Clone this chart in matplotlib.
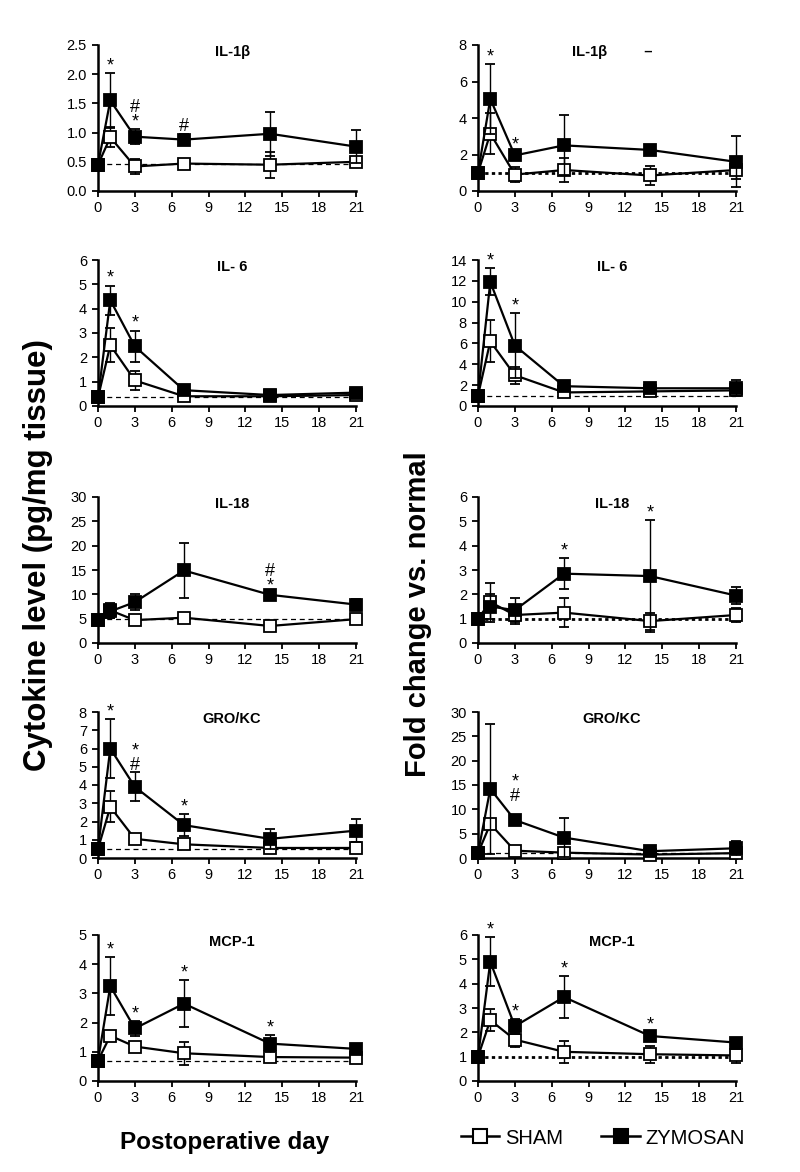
import matplotlib.pyplot as plt
from matplotlib.lines import Line2D

plt.rcParams['font.family'] = ['Liberation Sans', 'DejaVu Sans']

days = [0, 1, 3, 7, 14, 21]
xticks = [0, 3, 6, 9, 12, 15, 18, 21]

# ---- left column: cytokine level (pg/mg tissue) ----
il1b_sham = [0.45, 0.92, 0.42, 0.47, 0.45, 0.50]
il1b_sham_err = [0.08, 0.17, 0.13, 0.03, 0.22, 0.05]
il1b_zym = [0.45, 1.55, 0.93, 0.88, 0.98, 0.76]
il1b_zym_err = [0.10, 0.47, 0.13, 0.10, 0.38, 0.28]

il6_sham = [0.35, 2.50, 1.05, 0.40, 0.40, 0.45]
il6_sham_err = [0.05, 0.70, 0.40, 0.05, 0.05, 0.05]
il6_zym = [0.35, 4.35, 2.45, 0.65, 0.45, 0.55]
il6_zym_err = [0.05, 0.60, 0.65, 0.08, 0.10, 0.15]

il18_sham = [4.8, 6.7, 4.7, 5.2, 3.5, 4.9]
il18_sham_err = [0.3, 1.5, 0.3, 0.6, 0.5, 0.6]
il18_zym = [4.8, 6.5, 8.4, 14.9, 9.9, 7.9]
il18_zym_err = [0.3, 1.4, 1.6, 5.6, 0.3, 1.2]

gro_sham = [0.50, 2.80, 1.05, 0.75, 0.55, 0.55]
gro_sham_err = [0.05, 0.85, 0.15, 0.10, 0.10, 0.30]
gro_zym = [0.50, 6.00, 3.90, 1.80, 1.05, 1.50]
gro_zym_err = [0.10, 1.60, 0.80, 0.60, 0.55, 0.65]

mcp_sham = [0.70, 1.55, 1.18, 0.95, 0.82, 0.80]
mcp_sham_err = [0.05, 0.10, 0.10, 0.40, 0.10, 0.15]
mcp_zym = [0.70, 3.25, 1.80, 2.65, 1.28, 1.10]
mcp_zym_err = [0.05, 1.00, 0.25, 0.80, 0.30, 0.10]

# ---- right column: fold change vs. normal ----
il1b_fc_sham = [1.0, 3.15, 0.90, 1.15, 0.85, 1.15]
il1b_fc_sham_err = [0.1, 1.10, 0.40, 0.65, 0.50, 0.50]
il1b_fc_zym = [1.0, 5.05, 1.95, 2.50, 2.25, 1.60]
il1b_fc_zym_err = [0.1, 1.90, 0.20, 1.65, 0.12, 1.40]

il6_fc_sham = [1.0, 6.2, 2.95, 1.3, 1.4, 1.5]
il6_fc_sham_err = [0.1, 2.0, 0.80, 0.3, 0.2, 0.3]
il6_fc_zym = [1.0, 11.9, 5.8, 1.9, 1.7, 1.7]
il6_fc_zym_err = [0.1, 1.3, 3.1, 0.5, 0.2, 0.75]

il18_fc_sham = [1.0, 1.68, 1.15, 1.25, 0.90, 1.15]
il18_fc_sham_err = [0.05, 0.80, 0.35, 0.60, 0.35, 0.30]
il18_fc_zym = [1.0, 1.50, 1.35, 2.85, 2.75, 1.95]
il18_fc_zym_err = [0.05, 0.50, 0.50, 0.65, 2.30, 0.35]

gro_fc_sham = [1.0, 7.0, 1.5, 1.1, 0.7, 1.0]
gro_fc_sham_err = [0.3, 1.0, 0.3, 0.6, 0.5, 0.4]
gro_fc_zym = [1.0, 14.2, 7.8, 4.2, 1.4, 2.0]
gro_fc_zym_err = [0.3, 13.4, 0.5, 4.0, 0.9, 1.4]

mcp_fc_sham = [1.0, 2.50, 1.70, 1.20, 1.10, 1.05]
mcp_fc_sham_err = [0.05, 0.45, 0.30, 0.45, 0.35, 0.30]
mcp_fc_zym = [1.0, 4.90, 2.25, 3.45, 1.85, 1.58]
mcp_fc_zym_err = [0.05, 1.00, 0.30, 0.88, 0.15, 0.10]

# significance marks (day, symbol), placed over the ZYMOSAN error bar
il1b_marks = [(1, '*'), (3, '#\n*'), (7, '#')]
il6_marks = [(1, '*'), (3, '*')]
il18_marks = [(14, '#\n*')]
gro_marks = [(1, '*'), (3, '*\n#'), (7, '*')]
mcp_marks = [(1, '*'), (3, '*'), (7, '*'), (14, '*')]
il1b_fc_marks = [(1, '*'), (3, '*')]
il6_fc_marks = [(1, '*'), (3, '*')]
il18_fc_marks = [(7, '*'), (14, '*')]
gro_fc_marks = [(3, '*\n#\n')]
mcp_fc_marks = [(1, '*'), (3, '*'), (7, '*'), (14, '*')]

left_panels = [
    ('IL-1\u03b2', il1b_sham, il1b_sham_err, il1b_zym, il1b_zym_err, 0.47, 2.5, 0.5, '{:.1f}', il1b_marks),
    ('IL- 6', il6_sham, il6_sham_err, il6_zym, il6_zym_err, 0.35, 6, 1, '{:g}', il6_marks),
    ('IL-18', il18_sham, il18_sham_err, il18_zym, il18_zym_err, 4.9, 30, 5, '{:g}', il18_marks),
    ('GRO/KC', gro_sham, gro_sham_err, gro_zym, gro_zym_err, 0.5, 8, 1, '{:g}', gro_marks),
    ('MCP-1', mcp_sham, mcp_sham_err, mcp_zym, mcp_zym_err, 0.68, 5, 1, '{:g}', mcp_marks),
]
right_panels = [
    ('IL-1\u03b2         \u2013', il1b_fc_sham, il1b_fc_sham_err, il1b_fc_zym, il1b_fc_zym_err, 1.0, 8, 2, '{:g}', il1b_fc_marks),
    ('IL- 6', il6_fc_sham, il6_fc_sham_err, il6_fc_zym, il6_fc_zym_err, 1.0, 14, 2, '{:g}', il6_fc_marks),
    ('IL-18', il18_fc_sham, il18_fc_sham_err, il18_fc_zym, il18_fc_zym_err, 1.0, 6, 1, '{:g}', il18_fc_marks),
    ('GRO/KC', gro_fc_sham, gro_fc_sham_err, gro_fc_zym, gro_fc_zym_err, 1.0, 30, 5, '{:g}', gro_fc_marks),
    ('MCP-1', mcp_fc_sham, mcp_fc_sham_err, mcp_fc_zym, mcp_fc_zym_err, 1.0, 6, 1, '{:g}', mcp_fc_marks),
]
# baseline style of each right panel (dotted heavy or thin dashed)
right_base_dotted = [True, False, True, False, True]

W, H = 800, 1172
fig = plt.figure(figsize=(W / 100, H / 100), dpi=100)

tops = [45, 260, 497, 712, 935]
ax_h = 146
ax_w = 258
col_x = [98, 478]


def draw_panel(ax, panel, dotted):
    title, sham, sham_err, zym, zym_err, base, ymax, ystep, fmt, marks = panel
    if dotted:
        ax.axhline(base, color='black', lw=2.0, ls=(0, (1.2, 1.2)), zorder=1)
    else:
        ax.axhline(base, color='black', lw=0.9, ls=(0, (4, 3)), zorder=1)
    style = dict(color='black', mec='black', ms=8, mew=1.3, lw=1.6,
                 elinewidth=1.0, capsize=3.5, capthick=1.0, clip_on=False)
    ax.errorbar(days, sham, yerr=sham_err, fmt='-s', mfc='white', zorder=3, **style)
    ax.errorbar(days, zym, yerr=zym_err, fmt='-s', mfc='black', zorder=4, **style)
    for d, s in marks:
        i = days.index(d)
        ax.annotate(s, (d, zym[i] + zym_err[i]), xytext=(0, -1), textcoords='offset points',
                    ha='center', va='bottom', fontsize=13, linespacing=0.8)
    ax.set_xlim(0, 21)
    ax.set_ylim(0, ymax)
    ax.set_xticks(xticks)
    yt = [k * ystep for k in range(int(round(ymax / ystep)) + 1)]
    ax.set_yticks(yt)
    ax.set_yticklabels([fmt.format(v) for v in yt])
    for side in ('top', 'right'):
        ax.spines[side].set_visible(False)
    for side in ('left', 'bottom'):
        ax.spines[side].set_linewidth(1.8)
    ax.tick_params(direction='out', length=4, width=1.3, labelsize=10.5, pad=4)
    ax.tick_params(axis='x', pad=3)
    ax.text(0.52, 0.955, title, transform=ax.transAxes, ha='center', va='center',
            fontsize=10.5, fontweight='bold')


for r in range(5):
    for c, panels in enumerate((left_panels, right_panels)):
        ax = fig.add_axes([col_x[c] / W, 1 - (tops[r] + ax_h) / H, ax_w / W, ax_h / H])
        dotted = right_base_dotted[r] if c == 1 else False
        draw_panel(ax, panels[r], dotted)

fig.text(38 / W, 1 - 555 / H, 'Cytokine level (pg/mg tissue)', rotation=90,
         ha='center', va='center', fontsize=22.5, fontweight='bold')
fig.text(418 / W, 1 - 614 / H, 'Fold change vs. normal', rotation=90,
         ha='center', va='center', fontsize=21, fontweight='bold')
fig.text(225 / W, 1 - 1143 / H, 'Postoperative day', ha='center', va='center',
         fontsize=17.5, fontweight='bold')

handles = [
    Line2D([], [], color='black', marker='s', mfc='white', mec='black', ms=10, mew=1.5, lw=1.8),
    Line2D([], [], color='black', marker='s', mfc='black', mec='black', ms=10, mew=1.5, lw=1.8),
]
fig.legend(handles, ['SHAM', 'ZYMOSAN'], loc='center', bbox_to_anchor=(603 / W, 1 - 1138 / H),
           ncol=2, frameon=False, fontsize=14.5, handlelength=1.9, handletextpad=0.3,
           columnspacing=1.9)

fig.savefig('out.png', dpi=100, facecolor='white')
